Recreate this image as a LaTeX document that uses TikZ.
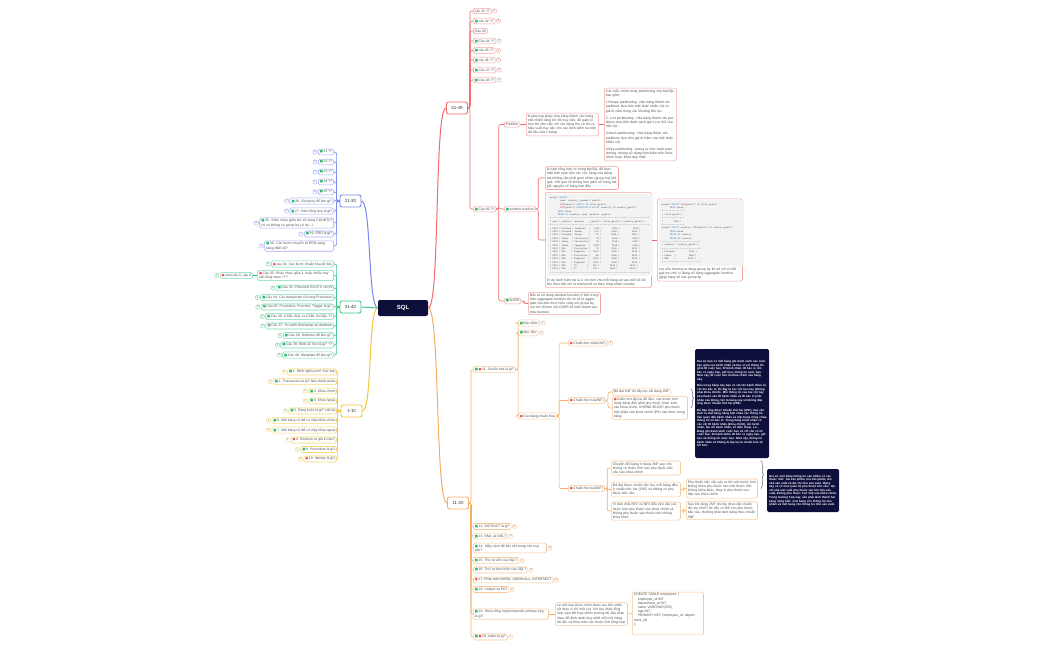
\documentclass[tikz,border=0pt]{standalone}
\usepackage{fontspec}
\setmainfont{Liberation Sans}
\newfontfamily\dejavu{DejaVu Sans}
\usepackage{tikz}
\usetikzlibrary{positioning,decorations.pathreplacing,calc}
\usepackage{xcolor}

\definecolor{navy}{HTML}{0E0F3B}
\definecolor{redline}{HTML}{F26B6B}
\definecolor{redbox}{HTML}{F5A3A3}
\definecolor{blueline}{HTML}{7886F0}
\definecolor{bluebox}{HTML}{A4AEF5}
\definecolor{greenline}{HTML}{3CC78C}
\definecolor{greenbox}{HTML}{78D8AE}
\definecolor{yelline}{HTML}{F4C542}
\definecolor{yelbox}{HTML}{F7D878}
\definecolor{orline}{HTML}{F6AE66}
\definecolor{orbox}{HTML}{F8C898}
\definecolor{txtgrey}{HTML}{505050}
\definecolor{icgreen}{HTML}{2DBE6C}
\definecolor{icred}{HTML}{EF4F4F}
\definecolor{icgrey}{HTML}{9A9A9A}
\definecolor{codebg}{HTML}{F3F3F3}
\definecolor{kwblue}{HTML}{3F86C6}
\definecolor{kwred}{HTML}{D0463F}
\definecolor{bracegrey}{HTML}{6A6A80}

\newcommand{\fq}{\fontsize{3.4}{4.2}\selectfont}
\newcommand{\fc}{\ttfamily\fontsize{2.6}{3.4}\selectfont}
\newcommand{\icg}{{\dejavu\textcolor{icgreen}{■}}\,}
\newcommand{\icr}{{\dejavu\textcolor{icred}{●}}\,}
\newcommand{\icn}{{\dejavu\textcolor{icgrey}{■}}\,}
\newcommand{\kwb}[1]{\textcolor{kwblue}{#1}}
\newcommand{\kwr}[1]{\textcolor{kwred}{#1}}
\newcommand{\tsep}{+------+---------+------------+--------+--------------+----------------+}
\newcommand{\trow}[6]{|~#1~|~#2~|~#3~|~#4~|~~~~~~~~~#5~|~~~~~~~~~~~#6~|}

\begin{document}
\begin{tikzpicture}[
    x=1pt, y=-1pt,
    label distance=0.6pt,
    sqlbox/.style={rectangle, rounded corners=2pt, fill=navy, text=white,
      minimum width=50pt, minimum height=16pt,
      font=\fontsize{6}{7}\selectfont\bfseries},
    grp/.style={rectangle, rounded corners=2pt, draw=#1, line width=0.9pt,
      fill=white, minimum width=21pt, minimum height=12pt, text=black!80,
      font=\fontsize{4.4}{5}\selectfont},
    qbox/.style={rectangle, rounded corners=1.5pt, draw=#1, line width=0.55pt,
      fill=white, inner xsep=1.6pt, inner ysep=1.4pt, text=txtgrey,
      font=\fq, align=left},
    bdg/.style={circle, draw=#1, line width=0.4pt, inner sep=0pt,
      minimum size=4.4pt, fill=white, text=txtgrey,
      font=\fontsize{2.6}{3}\selectfont},
    dark/.style={rectangle, rounded corners=1.5pt, fill=navy, text=white,
      inner sep=2pt, align=left, font=\fontsize{2.9}{3.55}\selectfont\bfseries},
    lnk/.style={draw=#1, line width=0.6pt, rounded corners=2pt},
    brc/.style={decorate, decoration={brace, amplitude=3pt},
      draw=bracegrey, line width=0.5pt}
  ]
  \fill[white] (0,0) rectangle (1050,650);
  \useasboundingbox (0,0) rectangle (1050,650);

  % root
  \node[sqlbox] (sql) at (403,308) {SQL};

  % 41-49
  \node[grp=redline] (g41) at (457,108) {41-49};
  \node[qbox=redbox, anchor=west, label={[bdg=redbox]right:2}] (q41) at (473,11) {câu 41 ??};
  \node[qbox=redbox, anchor=west, label={[bdg=redbox]right:3}] (q42) at (473,21) {\icg câu 42 ??};
  \node[qbox=redbox, anchor=west] (q43) at (473,31) {Câu 43};
  \node[qbox=redbox, anchor=west, label={[bdg=redbox]right:3}] (q44) at (473,41) {\icg Câu 44 ??};
  \node[qbox=redbox, anchor=west, label={[bdg=redbox]right:1}] (q45) at (473,50.5) {\icg câu 45 ??};
  \node[qbox=redbox, anchor=west, label={[bdg=redbox]right:1}] (q46) at (473,60) {\icg câu 46 ??};
  \node[qbox=redbox, anchor=west, label={[bdg=redbox]right:3}] (q47) at (473,70) {\icg Câu 47 ??};
  \node[qbox=redbox, anchor=west, label={[bdg=redbox]right:1}] (q48) at (473,80) {\icg Câu 48 ??};
  \node[qbox=redbox, anchor=west] (q49) at (473,209) {\icg Câu 49 ??};

  \node[qbox=redbox, anchor=west] (part) at (504,124.5) {Partition};
  \node[qbox=redbox, anchor=west, text width=68.8pt] (partT) at (526,124.5)
    {là phương pháp chia bảng thành các bảng nhỏ nhằm tăng tốc độ truy vấn, dễ quản lý hơn khi làm việc với các bảng lớn và tối ưu hiệu suất truy vấn cho các lệnh kiểm tra trên dữ liệu của 1 bảng};
  \node[qbox=redbox, anchor=west, text width=68.8pt] (partK) at (604,124.5)
    {Các kiểu chính trong partitioning của MySQL bao gồm:\\[3pt]
     1.Range partitioning: chia bảng thành các partitions dựa trên một hoặc nhiều cột có giá trị nằm trong các khoảng liên tục.\\[3pt]
     2. List partitioning: chia bảng thành các partitions dựa trên danh sách giá trị cụ thể của một cột.\\[3pt]
     3.Hash partitioning: chia bảng thành các partitions dựa trên giá trị băm của một hoặc nhiều cột.\\[3pt]
     4.Key partitioning: tương tự như hash partitioning, nhưng sử dụng hàm băm trên khóa chính hoặc khóa duy nhất.};

  \node[qbox=redbox, anchor=west] (win) at (504,209) {\icg window function};
  \node[qbox=redbox, anchor=west, text width=70pt] (winT) at (545,178)
    {là hàm tổng hợp có trong MySQL để thực hiện tính toán trên các cột, hàng của bảng mà không cần phải gom nhóm (group by) kết quả. Kết quả sẽ không làm giảm số hàng mà giữ nguyên số hàng ban đầu};
  \node[qbox=redbox, anchor=west, text width=103pt] (winC) at (545,240)
    {\colorbox{codebg}{\begin{minipage}{100pt}\fc
     mysql> \kwb{SELECT}\\
     \null~~~~~~~~~year, country, product, profit,\\
     \null~~~~~~~~~\kwr{SUM}(profit) \kwb{OVER}() \kwb{AS} total\_profit,\\
     \null~~~~~~~~~\kwr{SUM}(profit) \kwb{OVER}(\kwb{PARTITION BY} country) \kwb{AS} country\_profit\\
     \null~~~~~~~\kwb{FROM} sales\\
     \null~~~~~~~\kwb{ORDER BY} country, year, product, profit;\\
     \tsep\\
     |~year~|~country~|~product~~~~|~profit~|~total\_profit~|~country\_profit~|\\
     \tsep\\
     \trow{2000}{Finland}{Computer~~}{~~1500}{7535}{1610}\\
     \trow{2000}{Finland}{Phone~~~~~}{~~~100}{7535}{1610}\\
     \trow{2001}{Finland}{Phone~~~~~}{~~~~10}{7535}{1610}\\
     \trow{2000}{India~~}{Calculator}{~~~~75}{7535}{1350}\\
     \trow{2000}{India~~}{Calculator}{~~~~75}{7535}{1350}\\
     \trow{2000}{India~~}{Computer~~}{~~1200}{7535}{1350}\\
     \trow{2000}{USA~~~~}{Calculator}{~~~~75}{7535}{4575}\\
     \trow{2000}{USA~~~~}{Computer~~}{~~1500}{7535}{4575}\\
     \trow{2001}{USA~~~~}{Calculator}{~~~~50}{7535}{4575}\\
     \trow{2001}{USA~~~~}{Computer~~}{~~1500}{7535}{4575}\\
     \trow{2001}{USA~~~~}{Computer~~}{~~1200}{7535}{4575}\\
     \trow{2001}{USA~~~~}{TV~~~~~~~~}{~~~150}{7535}{4575}\\
     \trow{2001}{USA~~~~}{TV~~~~~~~~}{~~~100}{7535}{4575}\\
     \tsep
     \end{minipage}}\\[1pt]
     Ví dụ dưới hàm trả ra 2 cột mới cho mỗi hàng và sau mỗi số dữ liệu theo tiêu chí là total profit và theo từng nhóm country};
  \node[qbox=redbox, anchor=west, text width=82pt] (winR) at (657,240)
    {\colorbox{codebg}{\begin{minipage}{79pt}\fc
     mysql> \kwb{SELECT} \kwr{SUM}(profit) \kwb{AS} total\_profit\\
     \null~~~~~~~\kwb{FROM} sales;\\
     +--------------+\\
     |~total\_profit~|\\
     +--------------+\\
     |~~~~~~~~~7535~|\\
     +--------------+\\
     mysql> \kwb{SELECT} country, \kwr{SUM}(profit) \kwb{AS} country\_profit\\
     \null~~~~~~~\kwb{FROM} sales\\
     \null~~~~~~~\kwb{GROUP BY} country\\
     \null~~~~~~~\kwb{ORDER BY} country;\\
     +---------+----------------+\\
     |~country~|~country\_profit~|\\
     +---------+----------------+\\
     |~Finland~|~~~~~~~~~~~1610~|\\
     |~India~~~|~~~~~~~~~~~1350~|\\
     |~USA~~~~~|~~~~~~~~~~~4575~|\\
     +---------+----------------+
     \end{minipage}}\\[1pt]
     còn nếu thường ta dùng group by thì sẽ chỉ có kết quả thu nhỏ vì đang sử dụng aggregate function (gộp) hàng sẽ vào group by};

  \node[qbox=redbox, anchor=west] (over) at (504,301) {\icg OVER};
  \node[qbox=redbox, anchor=west, text width=69pt] (overT) at (528,303.5)
    {Nếu ta sử dụng window function ở bên trong hàm aggregate function thì nó sẽ là aggregate function thực hiện cùng với group by, còn khi đi kèm với OVER sẽ biến thành window function};

  % 21-30
  \node[grp=blueline] (g21) at (350.5,201) {21-30};
  \node[qbox=bluebox, anchor=east, label={[bdg=bluebox]left:3}] (a21) at (334,152) {\icg 21 ??};
  \node[qbox=bluebox, anchor=east, label={[bdg=bluebox]left:3}] (a22) at (334,162) {\icg 22 ??};
  \node[qbox=bluebox, anchor=east, label={[bdg=bluebox]left:3}] (a23) at (334,172) {\icg 23 ??};
  \node[qbox=bluebox, anchor=east, label={[bdg=bluebox]left:1}] (a24) at (334,182) {\icg 24 ??};
  \node[qbox=bluebox, anchor=east, label={[bdg=bluebox]left:3}] (a25) at (334,192) {\icg 25 ??};
  \node[qbox=bluebox, anchor=east, label={[bdg=bluebox]left:1}] (a26) at (334,201) {\icg 26. Group by để làm gì?};
  \node[qbox=bluebox, anchor=east, label={[bdg=bluebox]left:3}] (a27) at (334,211) {\icg 27. Hàm tổng hợp là gì?};
  \node[qbox=bluebox, anchor=east, text width=70.8pt, label={[bdg=bluebox]left:3}] (a28) at (334,223)
    {\icg 28. Khác nhau giữa khi sử dụng COUNT(*) có và không có group by (ví dụ...)};
  \node[qbox=bluebox, anchor=east, label={[bdg=bluebox]left:1}] (a29) at (334,234) {\icg 29. ERD là gì?};
  \node[qbox=bluebox, anchor=east, text width=66pt, label={[bdg=bluebox]left:1}] (a30) at (334,246)
    {\icg 30. Các bước chuyển từ ERD sang bảng thiết kế?};

  % 31-40
  \node[grp=greenline] (g31) at (350.5,307) {31-40};
  \node[qbox=greenbox, anchor=east, label={[bdg=greenbox]left:2}] (a31) at (334,264) {\icr câu 31: Các bước chuẩn hóa dữ liệu};
  \node[qbox=greenbox, anchor=east, text width=73pt] (a32) at (334,275.5)
    {\icr Câu 32: Khác nhau giữa 1 hoặc nhiều truy vấn lồng nhau ???};
  \node[qbox=greenbox, anchor=east, label={[bdg=greenbox]left:2}] (x32) at (253,275.5) {\icr xem câu 5, câu 9};
  \node[qbox=greenbox, anchor=east, label={[bdg=greenbox]left:2}] (a33) at (334,288) {\icg Câu 33: Phân biệt EXISTS với IN};
  \node[qbox=greenbox, anchor=east, label={[bdg=greenbox]left:3}] (a34) at (334,297.5) {\icg Câu 34: Các dạng tham số trong Procedure};
  \node[qbox=greenbox, anchor=east, label={[bdg=greenbox]left:3}] (a35) at (334,307) {\icg Câu 35: Procedure, Function, Trigger là gì?};
  \node[qbox=greenbox, anchor=east, label={[bdg=greenbox]left:3}] (a36) at (334,316.5) {\icg Câu 36: CSDL SQL vs CSDL NoSQL ??};
  \node[qbox=greenbox, anchor=east, label={[bdg=greenbox]left:2}] (a37) at (334,326) {\icn Câu 37: So sánh timestamp và datetime};
  \node[qbox=greenbox, anchor=east, label={[bdg=greenbox]left:1}] (a38) at (334,335.5) {\icg Câu 38: Delimiter để làm gì?};
  \node[qbox=greenbox, anchor=east, label={[bdg=greenbox]left:3}] (a39) at (334,345) {\icg Câu 39: Blob và Text là gì? ??};
  \node[qbox=greenbox, anchor=east, label={[bdg=greenbox]left:3}] (a40) at (334,355) {\icg Câu 40: Metadata để làm gì?};

  % 1-10
  \node[grp=yelline] (g1) at (351.5,411) {1-10};
  \node[qbox=yelbox, anchor=east, label={[bdg=yelbox]left:3}] (b01) at (337,372) {\icg 1. Định nghĩa join? Các loại};
  \node[qbox=yelbox, anchor=east, label={[bdg=yelbox]left:3}] (b02) at (337,381.5) {\icg 2. Transaction là gì? Nêu thành phần};
  \node[qbox=yelbox, anchor=east, label={[bdg=yelbox]left:3}] (b03) at (337,391) {\icg 3. Khóa chính};
  \node[qbox=yelbox, anchor=east, label={[bdg=yelbox]left:1}] (b04) at (337,401) {\icg 4. Khóa ngoại};
  \node[qbox=yelbox, anchor=east, label={[bdg=yelbox]left:3}] (b05) at (337,411) {\icg 5. Ràng buộc là gì? Liệt kê};
  \node[qbox=yelbox, anchor=east, label={[bdg=yelbox]left:1}] (b06) at (337,420.5) {\icg 6. Một bảng có thể có mấy khóa chính};
  \node[qbox=yelbox, anchor=east, label={[bdg=yelbox]left:1}] (b07) at (337,430) {\icg 7. Một bảng có thể có mấy khóa ngoại};
  \node[qbox=yelbox, anchor=east, label={[bdg=yelbox]left:1}] (b08) at (337,440) {\icr 8. Boolean có giá trị nào?};
  \node[qbox=yelbox, anchor=east, label={[bdg=yelbox]left:1}] (b09) at (337,449.5) {\icg 9. Procedure là gì?};
  \node[qbox=yelbox, anchor=east, label={[bdg=yelbox]left:3}] (b10) at (337,459) {\icr 10. Identity là gì?};

  % 11-20
  \node[grp=orline] (g11) at (458,503) {11-20};
  \node[qbox=orbox, anchor=west] (n11) at (473,369.5) {\icg\icr 11. Chuẩn hóa là gì?};
  \node[qbox=orbox, anchor=west, label={[bdg=orbox]right:1}] (d1) at (518,323) {\icg Đặc điểm};
  \node[qbox=orbox, anchor=west, label={[bdg=orbox]right:1}] (d2) at (518,333) {\icg Mục tiêu};
  \node[qbox=orbox, anchor=west] (d3) at (518,416) {\icr Các dạng chuẩn hóa};
  \node[qbox=orbox, anchor=west, label={[bdg=orbox]right:3}] (nf1) at (568,343) {\icr Chuẩn thứ nhất(1NF)};
  \node[qbox=orbox, anchor=west] (nf2) at (568,400.5) {\icr Chuẩn thứ hai(2NF)};
  \node[qbox=orbox, anchor=west] (nf3) at (568,488.5) {\icr Chuẩn thứ ba(3NF)};
  \node[qbox=orbox, anchor=west] (nf2a) at (612,392) {Đã đạt 1NF thì tiếp tục xét dạng 2NF};
  \node[qbox=orbox, anchor=west, text width=72pt] (nf2b) at (612,408)
    {\icr Giảm bớt lặp lại dữ liệu: các thuộc tính trong bảng đều phải phụ thuộc hoàn toàn vào khóa chính, KHÔNG ĐƯỢC phụ thuộc một phần vào khóa chính (PK) nào khác trong bảng.};
  \node[qbox=orbox, anchor=west, text width=66pt] (t3a) at (611,468)
    {Chuyển đổi bảng ở dạng 2NF sao cho không có thuộc tính nào phụ thuộc bắc cầu vào khóa chính};
  \node[qbox=orbox, anchor=west, text width=66pt] (t3b) at (611,489.5)
    {Đã đạt được chuẩn thứ hai, mỗi bảng đều ở chuẩn thứ hai (2NF) và không có phụ thuộc bắc cầu};
  \node[qbox=orbox, anchor=west, text width=66pt] (t3c) at (611,511)
    {Vì bản chất NF2 và NF3 đều yêu cầu các thuộc tính phụ thuộc vào khóa chính và không phụ thuộc vào thuộc tính không khóa khác};
  \node[qbox=orbox, anchor=west, text width=68pt] (t3b2) at (686,488.5)
    {Phụ thuộc bắc cầu xảy ra khi một thuộc tính không khóa phụ thuộc vào một thuộc tính không khóa khác, thay vì phụ thuộc trực tiếp vào khóa chính};
  \node[qbox=orbox, anchor=west, text width=68pt] (t3c2) at (686,510.5)
    {Sau khi dùng 2NF nhưng chưa đạt chuẩn thứ ba (3NF) thì vẫn có thể còn phụ thuộc bắc cầu, thường phải tách bảng theo chuẩn 3NF};
  \node[dark, anchor=west, text width=70pt, minimum height=109pt] (k1) at (695,403.5)
    {Giả sử bạn có một bảng ghi danh sách các cuộc hẹn giữa các bệnh nhân và bác sĩ với thông tin gồm ID cuộc hẹn, ID bệnh nhân, ID bác sĩ, tên bác sĩ, ngày hẹn, giờ hẹn, thông tin cuộc hẹn. Như vậy, ID cuộc hẹn là khóa chính của bảng này.\\[3pt]
     Nếu trong bảng này bạn có cột tên bệnh nhân và cột tên bác sĩ, thì đây là các cột non-key (không phải khóa chính). Mỗi thông tin của hai cột này phụ thuộc vào ID bệnh nhân và ID bác sĩ (một phần của khóa), tức là bảng này sẽ không đáp ứng được Chuẩn thứ hai (2NF).\\[3pt]
     Để đáp ứng được Chuẩn thứ hai (2NF), bạn cần tách ra một bảng riêng biệt chứa các thông tin liên quan đến bệnh nhân và một bảng riêng chứa thông tin về bác sĩ. Trong bảng bệnh nhân có các cột ID bệnh nhân (khóa chính), tên bệnh nhân, địa chỉ bệnh nhân, số điện thoại, v.v... Bảng ghi danh sách cuộc hẹn sẽ chỉ cần có ID cuộc hẹn, ID bệnh nhân, ID bác sĩ, ngày hẹn, giờ hẹn và thông tin cuộc hẹn. Như vậy, thông tin bệnh nhân sẽ không bị lặp lại và chuẩn hóa sẽ tốt hơn.};
  \node[dark, anchor=west, text width=68pt, minimum height=43pt] (k2) at (767,490.5)
    {Giả sử một bảng thông tin sản phẩm có các thuộc tính: mã sản phẩm, tên sản phẩm, tên nhà sản xuất và địa chỉ nhà sản xuất. Bảng này sẽ có một quan hệ phụ thuộc bắc cầu: địa chỉ nhà sản xuất phụ thuộc vào tên nhà sản xuất, không phụ thuộc trực tiếp vào khóa chính. Trong trường hợp này, cần phải tách thành hai bảng riêng biệt: một bảng cho thông tin sản phẩm và một bảng cho thông tin nhà sản xuất.};

  \node[qbox=orbox, anchor=west, label={[bdg=orbox]right:2}] (n12) at (473,526.5) {\icg 12. DISTINCT là gì?};
  \node[qbox=orbox, anchor=west, label={[bdg=orbox]right:2}] (n13) at (473,536) {\icg 13. DML và DDL?};
  \node[qbox=orbox, anchor=west, text width=70pt, label={[bdg=orbox]right:3}] (n14) at (473,548)
    {\icg 14. Mấy cách để liên kết trong câu truy vấn?};
  \node[qbox=orbox, anchor=west, label={[bdg=orbox]right:1}] (n15) at (473,560.5) {\icg 15. Thứ tự viết của SQL?};
  \node[qbox=orbox, anchor=west, label={[bdg=orbox]right:3}] (n16) at (473,570) {\icg 16. Thứ tự thực hiện của SQL?};
  \node[qbox=orbox, anchor=west, label={[bdg=orbox]right:3}] (n17) at (473,580) {\icr 17. Phân biệt UNION, UNION ALL, INTERSECT};
  \node[qbox=orbox, anchor=west, label={[bdg=orbox]right:2}] (n18) at (473,589.5) {\icg 18. Unique và PK?};
  \node[qbox=orbox, anchor=west, text width=72pt] (n19) at (473,614)
    {\icg 19. Khóa tổng hợp(composite primary key) là gì?};
  \node[qbox=orbox, anchor=west, text width=69pt] (t19) at (555,614)
    {Là một loại khóa chính được tạo bởi nhiều cột thay vì chỉ một cột. Khi tạo khóa tổng hợp, bạn kết hợp nhiều trường dữ liệu khác nhau để định danh duy nhất mỗi một hàng dữ liệu và thỏa mãn các thuộc tính tổng hợp};
  \node[qbox=orbox, anchor=west, text width=68pt] (c19) at (632,613.5)
    {CREATE TABLE employees (\\
     \hspace*{4pt}employee\_id INT,\\
     \hspace*{4pt}department\_id INT,\\
     \hspace*{4pt}name VARCHAR(255),\\
     \hspace*{4pt}age INT,\\
     \hspace*{4pt}PRIMARY KEY (employee\_id, department\_id)\\
     );\\[4pt]\mbox{}};
  \node[qbox=orbox, anchor=west, label={[bdg=orbox]right:1}] (n20) at (473,637) {\icg\icr 20. Index là gì?};

  % branches from the root
  \draw[redline, line width=1pt] (sql.east) .. controls +(12,0) and +(-12,0) .. (g41.west);
  \draw[orline, line width=1pt] (sql.east) .. controls +(12,0) and +(-12,0) .. (g11.west);
  \draw[blueline, line width=1pt] (sql.west) .. controls +(-10,0) and +(10,0) .. (g21.east);
  \draw[greenline, line width=1pt] (sql.west) .. controls +(-8,0) and +(8,0) .. (g31.east);
  \draw[yelline, line width=1pt] (sql.west) .. controls +(-10,0) and +(10,0) .. (g1.east);

  % 41-49 links
  \draw[lnk=redline] (g41.east) -- ++(2,0) |- (q41.west);
  \draw[lnk=redline] (g41.east) -- ++(2,0) |- (q42.west);
  \draw[lnk=redline] (g41.east) -- ++(2,0) |- (q43.west);
  \draw[lnk=redline] (g41.east) -- ++(2,0) |- (q44.west);
  \draw[lnk=redline] (g41.east) -- ++(2,0) |- (q45.west);
  \draw[lnk=redline] (g41.east) -- ++(2,0) |- (q46.west);
  \draw[lnk=redline] (g41.east) -- ++(2,0) |- (q47.west);
  \draw[lnk=redline] (g41.east) -- ++(2,0) |- (q48.west);
  \draw[lnk=redline] (g41.east) -- ++(2,0) |- (q49.west);
  \draw[lnk=redline] (q49.east) -- ++(2.5,0) |- (part.west);
  \draw[lnk=redline] (q49.east) -- ++(2.5,0) |- (win.west);
  \draw[lnk=redline] (q49.east) -- ++(2.5,0) |- (over.west);
  \draw[lnk=redline] (part.east) -- (partT.west);
  \draw[lnk=redline] (partT.east) -- (partK.west);
  \draw[lnk=redline] (win.east) -- ++(2.5,0) |- (winT.west);
  \draw[lnk=redline] (win.east) -- ++(2.5,0) |- (winC.west);
  \draw[lnk=redline] (winC.east) -- (winR.west);
  \draw[lnk=redline] (over.east) -- ++(3,0) |- (overT.west);

  % 21-30 links
  \draw[lnk=blueline] (g21.west) -- ++(-3,0) |- (a21.east);
  \draw[lnk=blueline] (g21.west) -- ++(-3,0) |- (a22.east);
  \draw[lnk=blueline] (g21.west) -- ++(-3,0) |- (a23.east);
  \draw[lnk=blueline] (g21.west) -- ++(-3,0) |- (a24.east);
  \draw[lnk=blueline] (g21.west) -- ++(-3,0) |- (a25.east);
  \draw[lnk=blueline] (g21.west) -- ++(-3,0) |- (a26.east);
  \draw[lnk=blueline] (g21.west) -- ++(-3,0) |- (a27.east);
  \draw[lnk=blueline] (g21.west) -- ++(-3,0) |- (a28.east);
  \draw[lnk=blueline] (g21.west) -- ++(-3,0) |- (a29.east);
  \draw[lnk=blueline] (g21.west) -- ++(-3,0) |- (a30.east);

  % 31-40 links
  \draw[lnk=greenline] (g31.west) -- ++(-3,0) |- (a31.east);
  \draw[lnk=greenline] (g31.west) -- ++(-3,0) |- (a32.east);
  \draw[lnk=greenline] (g31.west) -- ++(-3,0) |- (a33.east);
  \draw[lnk=greenline] (g31.west) -- ++(-3,0) |- (a34.east);
  \draw[lnk=greenline] (g31.west) -- ++(-3,0) |- (a35.east);
  \draw[lnk=greenline] (g31.west) -- ++(-3,0) |- (a36.east);
  \draw[lnk=greenline] (g31.west) -- ++(-3,0) |- (a37.east);
  \draw[lnk=greenline] (g31.west) -- ++(-3,0) |- (a38.east);
  \draw[lnk=greenline] (g31.west) -- ++(-3,0) |- (a39.east);
  \draw[lnk=greenline] (g31.west) -- ++(-3,0) |- (a40.east);
  \draw[lnk=greenline] (a32.west) -- (x32.east);

  % 1-10 links
  \draw[lnk=yelline] (g1.west) -- ++(-3,0) |- (b01.east);
  \draw[lnk=yelline] (g1.west) -- ++(-3,0) |- (b02.east);
  \draw[lnk=yelline] (g1.west) -- ++(-3,0) |- (b03.east);
  \draw[lnk=yelline] (g1.west) -- ++(-3,0) |- (b04.east);
  \draw[lnk=yelline] (g1.west) -- ++(-3,0) |- (b05.east);
  \draw[lnk=yelline] (g1.west) -- ++(-3,0) |- (b06.east);
  \draw[lnk=yelline] (g1.west) -- ++(-3,0) |- (b07.east);
  \draw[lnk=yelline] (g1.west) -- ++(-3,0) |- (b08.east);
  \draw[lnk=yelline] (g1.west) -- ++(-3,0) |- (b09.east);
  \draw[lnk=yelline] (g1.west) -- ++(-3,0) |- (b10.east);

  % 11-20 links
  \draw[lnk=orline] (g11.east) -- ++(2,0) |- (n11.west);
  \draw[lnk=orline] (g11.east) -- ++(2,0) |- (n12.west);
  \draw[lnk=orline] (g11.east) -- ++(2,0) |- (n13.west);
  \draw[lnk=orline] (g11.east) -- ++(2,0) |- (n14.west);
  \draw[lnk=orline] (g11.east) -- ++(2,0) |- (n15.west);
  \draw[lnk=orline] (g11.east) -- ++(2,0) |- (n16.west);
  \draw[lnk=orline] (g11.east) -- ++(2,0) |- (n17.west);
  \draw[lnk=orline] (g11.east) -- ++(2,0) |- (n18.west);
  \draw[lnk=orline] (g11.east) -- ++(2,0) |- (n19.west);
  \draw[lnk=orline] (g11.east) -- ++(2,0) |- (n20.west);
  \draw[lnk=orline] (n11.east) -- ++(2.5,0) |- (d1.west);
  \draw[lnk=orline] (n11.east) -- ++(2.5,0) |- (d2.west);
  \draw[lnk=orline] (n11.east) -- ++(2.5,0) |- (d3.west);
  \draw[lnk=orline] (d3.east) -- ++(2.5,0) |- (nf1.west);
  \draw[lnk=orline] (d3.east) -- ++(2.5,0) |- (nf2.west);
  \draw[lnk=orline] (d3.east) -- ++(2.5,0) |- (nf3.west);
  \draw[lnk=orline] (nf2.east) -- ++(2.5,0) |- (nf2a.west);
  \draw[lnk=orline] (nf2.east) -- ++(2.5,0) |- (nf2b.west);
  \draw[lnk=orline] (nf3.east) -- ++(2.5,0) |- (t3a.west);
  \draw[lnk=orline] (nf3.east) -- ++(2.5,0) |- (t3b.west);
  \draw[lnk=orline] (nf3.east) -- ++(2.5,0) |- (t3c.west);
  \draw[lnk=orline] (t3b.east) -- ++(3,0) |- (t3b2.west);
  \draw[lnk=orline] (t3c.east) -- ++(3,0) |- (t3c2.west);
  \draw[lnk=orline] (n19.east) -- (t19.west);
  \draw[lnk=orline] (t19.east) -- (c19.west);

  % braces to the examples
  \draw[brc] ($(nf2b.east |- nf2a.north)+(3,0)$) -- ($(nf2b.east)+(3,0)$ |- nf2b.south);
  \draw[brc] ($(t3b2.east |- t3a.north)+(3,0)$) -- ($(t3b2.east)+(3,0)$ |- t3c2.south);
\end{tikzpicture}
\end{document}
